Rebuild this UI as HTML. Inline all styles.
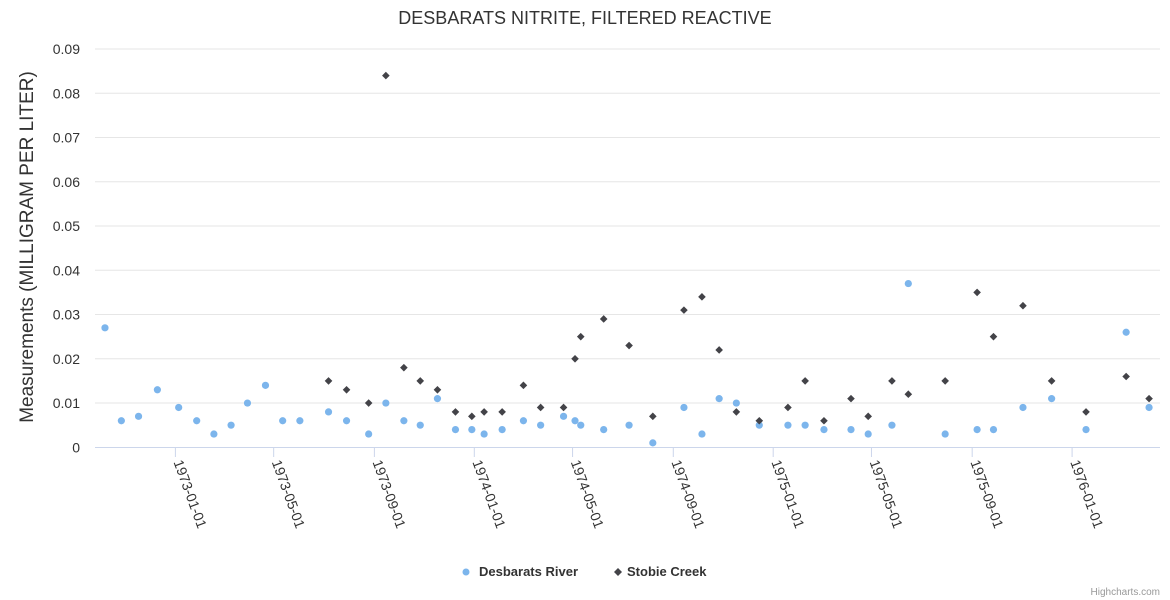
<!DOCTYPE html>
<html><head><meta charset="utf-8"><style>
body{margin:0;background:#fff;}
svg{display:block;font-family:"Liberation Sans",sans-serif;}
</style></head><body>
<svg id="chart" width="1170" height="600">
<text x="585" y="24" text-anchor="middle" font-size="18" fill="#333">DESBARATS NITRITE, FILTERED REACTIVE</text>
<text transform="translate(33,247) rotate(-90)" text-anchor="middle" font-size="19" fill="#333">Measurements (MILLIGRAM PER LITER)</text>
<g id="grid"></g><g id="xaxis"></g><g id="marks"></g>
<g>
<g><circle cx="466" cy="572" r="3.5" fill="#7cb5ec"/><text x="479" y="576" font-size="13" font-weight="bold" fill="#333">Desbarats River</text></g>
<g><path d="M618 568 L622 572 L618 576 L614 572Z" fill="#434348"/><text x="627" y="576" font-size="13" font-weight="bold" fill="#333">Stobie Creek</text></g>
</g>
<text x="1160" y="595" text-anchor="end" font-size="10" fill="#999">Highcharts.com</text>
</svg>
<script>
// days since 1973-01-01
const desDays=[-86,-66,-45,-22,4,26,47,68,88,110,131,152,187,209,236,257,279,299,320,342,362,377,399,425,446,474,488,495,523,554,583,621,643,664,685,713,748,769,792,825,846,875,895,940,979,999,1035,1070,1112,1161,1189];
const desVals=[0.027,0.006,0.007,0.013,0.009,0.006,0.003,0.005,0.010,0.014,0.006,0.006,0.008,0.006,0.003,0.010,0.006,0.005,0.011,0.004,0.004,0.003,0.004,0.006,0.005,0.007,0.006,0.005,0.004,0.005,0.001,0.009,0.003,0.011,0.010,0.005,0.005,0.005,0.004,0.004,0.003,0.005,0.037,0.003,0.004,0.004,0.009,0.011,0.004,0.026,0.009];
const stoDays=[187,209,236,257,279,299,320,342,362,377,399,425,446,474,488,495,523,554,583,621,643,664,685,713,748,769,792,825,846,875,895,940,979,999,1035,1070,1112,1161,1189];
const stoVals=[0.015,0.013,0.010,0.084,0.018,0.015,0.013,0.008,0.007,0.008,0.008,0.014,0.009,0.009,0.020,0.025,0.029,0.023,0.007,0.031,0.034,0.022,0.008,0.006,0.009,0.015,0.006,0.011,0.007,0.015,0.012,0.015,0.035,0.025,0.032,0.015,0.008,0.016,0.011];
const yTicks=[0,0.01,0.02,0.03,0.04,0.05,0.06,0.07,0.08,0.09];
const yTickLabels=["0","0.01","0.02","0.03","0.04","0.05","0.06","0.07","0.08","0.09"];
const xTickDays=[0,120,243,365,485,608,730,850,973,1095];
const xTickLabels=["1973-01-01","1973-05-01","1973-09-01","1974-01-01","1974-05-01","1974-09-01","1975-01-01","1975-05-01","1975-09-01","1976-01-01"];
const NS="http://www.w3.org/2000/svg";
const L=95,R=1160;
const xs=d=>175.4+d*0.8189;
const ys=v=>447.3-v*4425;
function mk(t,a,p){const e=document.createElementNS(NS,t);for(const k in a)e.setAttribute(k,a[k]);p.appendChild(e);return e;}
const grid=document.getElementById('grid');
yTicks.forEach((v,i)=>{
  const y=ys(v);
  if(v>0){const l=mk('line',{x1:L,x2:R,y1:y,y2:y,stroke:'#e6e6e6'},grid);
  
  }
  const t=mk('text',{x:80,y:y+5,'text-anchor':'end','font-size':14,fill:'#333'},grid);
  t.textContent=yTickLabels[i];
  
  
});
const xa=document.getElementById('xaxis');
const ax=mk('line',{x1:L,x2:R,y1:447.5,y2:447.5,stroke:'#ccd6eb'},xa);


xTickDays.forEach((d,i)=>{
  const x=xs(d);
  const tk=mk('line',{x1:x,x2:x,y1:447,y2:457,stroke:'#ccd6eb'},xa);
  
  
  const t=mk('text',{transform:`translate(${x-2},${462}) rotate(70)`,'font-size':14,fill:'#333'},xa);
  t.textContent=xTickLabels[i];
  
  
});
const marks=document.getElementById('marks');
desDays.forEach((d,i)=>{
  const c=mk('circle',{cx:xs(d),cy:ys(desVals[i]),r:3.6,fill:'#7cb5ec'},marks);
  
  
});
stoDays.forEach((d,i)=>{
  const x=xs(d),y=ys(stoVals[i]);
  const p=mk('path',{d:`M${x} ${y-3.8} L${x+3.8} ${y} L${x} ${y+3.8} L${x-3.8} ${y}Z`,fill:'#434348'},marks);
  
  
});
</script>
</body></html>
